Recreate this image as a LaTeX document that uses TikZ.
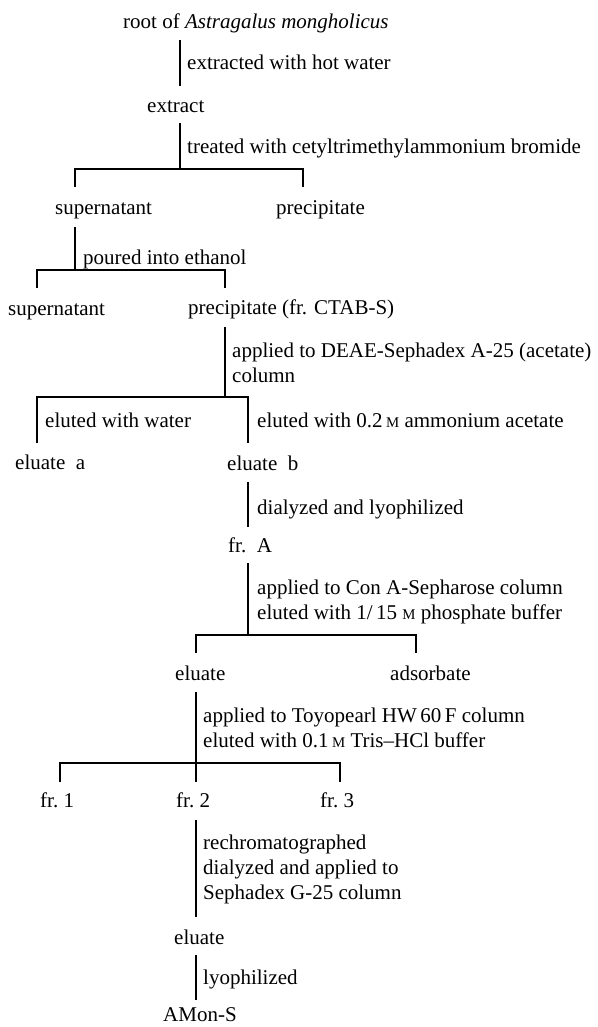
\documentclass[tikz,border=0pt]{standalone}
\usepackage{fontspec}
\setmainfont{Liberation Serif}
% small capital M for molar concentrations
\newcommand\molM{{\fontsize{14.8}{14.8}\selectfont M}}
\begin{document}
\begin{tikzpicture}[x=1pt,y=-1pt,
  txt/.style={anchor=base west, inner sep=0pt, font=\fontsize{21}{25}\selectfont, align=left},
  conn/.style={line width=1.1pt, line cap=butt}]
\useasboundingbox (0,0) rectangle (597,1027);

% ---- texts (multi-line texts are placed by their last baseline) ----
\node[txt] (root)  at (123,29)  {root of \textit{Astragalus mongholicus}};
\node[txt] (s1)    at (187,70)  {extracted with hot water};
\node[txt] (extr)  at (147,113) {extract};
\node[txt] (s2)    at (187,154) {treated with cetyltrimethylammonium bromide};
\node[txt] (supA)  at (55,214)  {supernatant};
\node[txt] (precA) at (276,214) {precipitate};
\node[txt] (s3)    at (83,264)  {poured into ethanol};
\node[txt] (supB)  at (8,315)   {supernatant};
\node[txt] (precB) at (188,314) {precipitate (fr. CTAB-S)};
\node[txt] (s4)    at (232,382) {applied to DEAE-Sephadex A-25 (acetate)\\column};
\node[txt] (s5a)   at (45,427)  {eluted with water};
\node[txt] (s5b)   at (257,427) {eluted with 0.2\,\molM{} ammonium acetate};
\node[txt] (elA)   at (15,469)  {eluate\ \ a};
\node[txt] (elB)   at (227,470) {eluate\ \ b};
\node[txt] (s6)    at (257,514) {dialyzed and lyophilized};
\node[txt] (frA)   at (228,552) {fr.\ \ A};
\node[txt] (s7)    at (257,619) {applied to Con A-Sepharose column\\eluted with 1/\,15 \molM{} phosphate buffer};
\node[txt] (elC)   at (175,680) {eluate};
\node[txt] (ads)   at (390,680) {adsorbate};
\node[txt] (s8)    at (203,747) {applied to Toyopearl HW\,60\,F column\\eluted with 0.1\,\molM{} Tris--HCl buffer};
\node[txt] (fr1)   at (40,807)  {fr.\ 1};
\node[txt] (fr2)   at (176,807) {fr.\ 2};
\node[txt] (fr3)   at (320,807) {fr.\ 3};
\node[txt] (s9)    at (203,899) {rechromatographed\\dialyzed and applied to\\Sephadex G-25 column};
\node[txt] (elD)   at (174,944) {eluate};
\node[txt] (s10)   at (203,984) {lyophilized};
\node[txt] (amon)  at (163,1021){AMon-S};

% ---- junction points of the tree ----
\coordinate (r1t) at (180,40);   \coordinate (r1b) at (180,86);
\coordinate (r2t) at (180,123);  \coordinate (r2b) at (180,169);
\coordinate (b1l) at (75,169);   \coordinate (b1r) at (303,169);
\coordinate (b1lt) at (75,187);  \coordinate (b1rt) at (303,187);
\coordinate (r3t) at (75,227);   \coordinate (r3b) at (75,270);
\coordinate (b2l) at (37,270);   \coordinate (b2r) at (225,270);
\coordinate (b2lt) at (37,288);  \coordinate (b2rt) at (225,288);
\coordinate (r4t) at (225,327);  \coordinate (r4b) at (225,397);
\coordinate (b3l) at (37,397);   \coordinate (b3r) at (248,397);
\coordinate (b3lt) at (37,443);  \coordinate (b3rt) at (248,443);
\coordinate (r5t) at (248,482);  \coordinate (r5b) at (248,527);
\coordinate (r6t) at (248,563);  \coordinate (r6b) at (248,635);
\coordinate (b4l) at (196,635);  \coordinate (b4r) at (416,635);
\coordinate (b4lt) at (196,653); \coordinate (b4rt) at (416,653);
\coordinate (r7t) at (196,692);  \coordinate (r7b) at (196,763);
\coordinate (b5l) at (60,763);   \coordinate (b5r) at (340,763);
\coordinate (b5lt) at (60,782);  \coordinate (b5mt) at (196,782); \coordinate (b5rt) at (340,782);
\coordinate (r8t) at (196,820);  \coordinate (r8b) at (196,917);
\coordinate (r9t) at (196,955);  \coordinate (r9b) at (196,1000);

% ---- connectors ----
\draw[conn] (r1t) -- (r1b);
\draw[conn] (r2t) -- (r2b);
\draw[conn] (b1lt) -- (b1l) -- (b1r) -- (b1rt);
\draw[conn] (r3t) -- (r3b);
\draw[conn] (b2lt) -- (b2l) -- (b2r) -- (b2rt);
\draw[conn] (r4t) -- (r4b);
\draw[conn] (b3lt) -- (b3l) -- (b3r) -- (b3rt);
\draw[conn] (r5t) -- (r5b);
\draw[conn] (r6t) -- (r6b);
\draw[conn] (b4lt) -- (b4l) -- (b4r) -- (b4rt);
\draw[conn] (r7t) -- (r7b) -- (b5mt);
\draw[conn] (b5lt) -- (b5l) -- (b5r) -- (b5rt);
\draw[conn] (r8t) -- (r8b);
\draw[conn] (r9t) -- (r9b);
\end{tikzpicture}
\end{document}
